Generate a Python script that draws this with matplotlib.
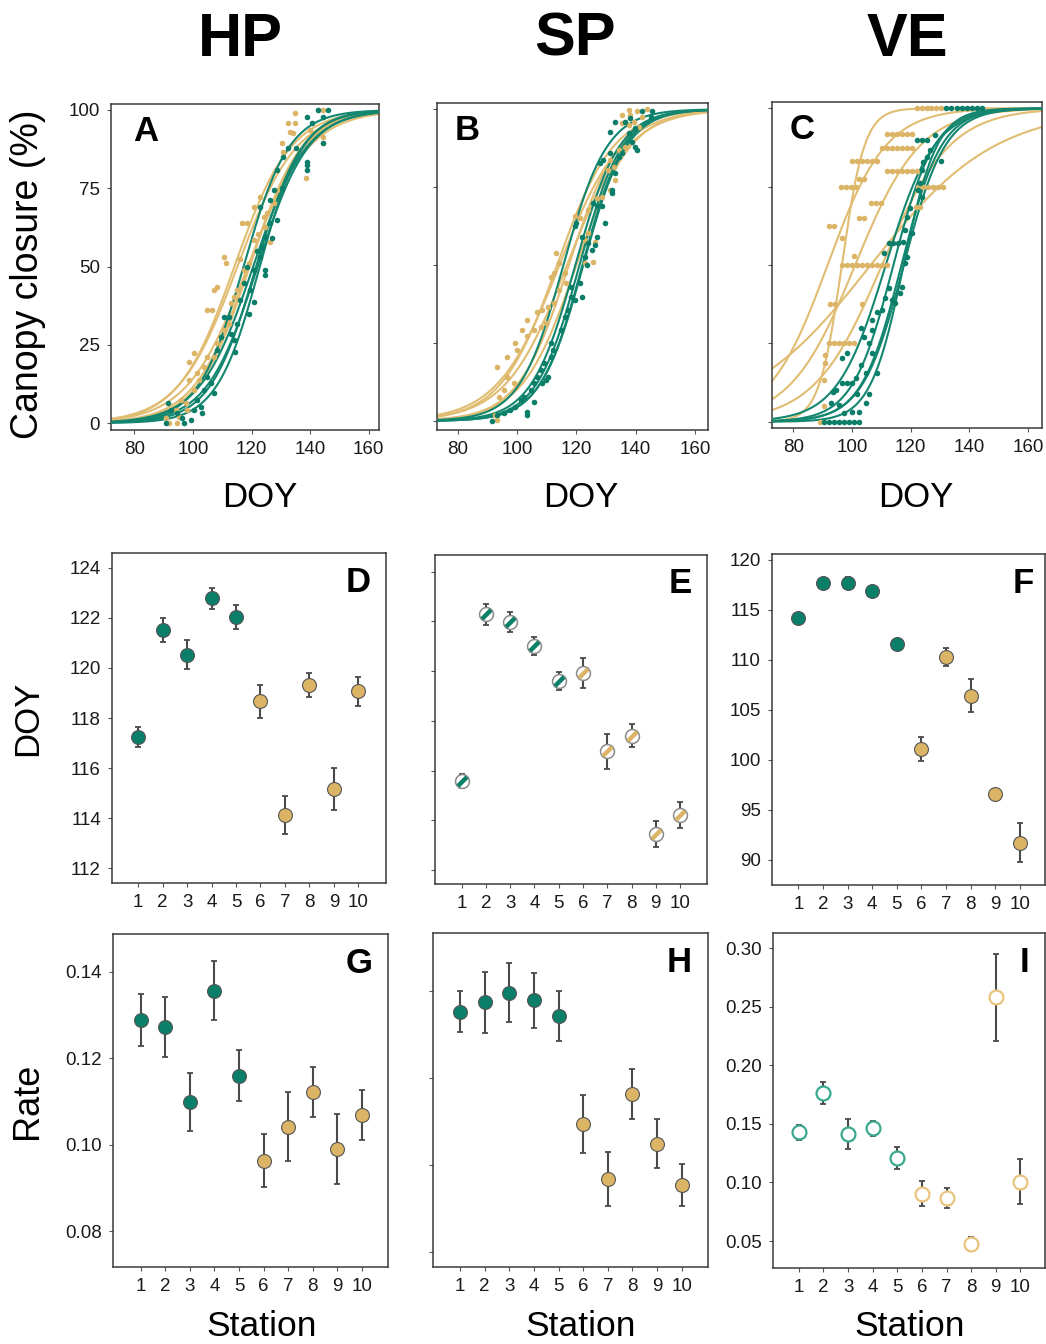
import numpy as np
import matplotlib
matplotlib.use("Agg")
import matplotlib.pyplot as plt
from matplotlib.path import Path

plt.rcParams['font.family'] = ['Liberation Sans', 'DejaVu Sans']

# ---------------- data ----------------
stations = [1, 2, 3, 4, 5, 6, 7, 8, 9, 10]
site_names = ["HP", "SP", "VE"]
doy_ticks = [80, 100, 120, 140, 160]
canopy_ticks = [0, 25, 50, 75, 100]

# inflection DOY (D, E, F) with errors
D_doy = [117.24, 121.53, 120.53, 122.80, 122.05, 118.67, 114.13, 119.31, 115.17, 119.08]
D_err = [0.40, 0.47, 0.58, 0.42, 0.47, 0.67, 0.77, 0.48, 0.83, 0.58]
E_doy = [115.58, 122.28, 121.99, 121.00, 119.60, 119.94, 116.77, 117.41, 113.44, 114.22]
E_err = [0.28, 0.41, 0.40, 0.37, 0.36, 0.60, 0.69, 0.47, 0.53, 0.53]
F_doy = [114.17, 117.67, 117.70, 116.90, 111.57, 101.13, 110.27, 106.43, 96.60, 91.73]
F_err = [0.15, 0.15, 0.63, 0.15, 0.58, 1.20, 0.90, 1.65, 0.47, 1.95]

# rates (G, H, I) with errors
G_rate = [0.1288, 0.1272, 0.1098, 0.1356, 0.1159, 0.0963, 0.1041, 0.1122, 0.0989, 0.1068]
G_err = [0.0060, 0.0070, 0.0067, 0.0069, 0.0059, 0.0062, 0.0080, 0.0058, 0.0081, 0.0058]
H_rate = [0.1352, 0.1374, 0.1396, 0.1378, 0.1343, 0.1094, 0.0967, 0.1163, 0.1049, 0.0954]
H_err = [0.0047, 0.0070, 0.0067, 0.0063, 0.0057, 0.0067, 0.0062, 0.0058, 0.0056, 0.0048]
I_rate = [0.1428, 0.1761, 0.1414, 0.1462, 0.1209, 0.0904, 0.0867, 0.0472, 0.2581, 0.1007]
I_err = [0.0062, 0.0093, 0.0130, 0.0064, 0.0093, 0.0107, 0.0083, 0.0060, 0.0370, 0.0190]

# observed canopy closure points
A_gold_doy = [134.8, 134.8, 134.2, 133.1, 138.5, 130.3, 130.8, 139.9, 144.4, 144.4, 144.4, 142.7, 132.5,
              122.9, 120.7, 116.7, 118.4, 110.5, 111.1, 107.1, 108.2, 104.9, 106.6, 98.6, 100.3, 101.5,
              98.6, 95.8, 94.1, 94.7, 91.9, 90.7, 124.1, 124.6, 126.3, 120.7, 119.0, 117.3, 116.2, 115.0,
              112.8, 113.9, 112.2, 110.5, 108.2, 107.1, 104.9, 103.7, 102.0, 100.3, 97.5, 98.1, 95.3,
              127.5, 128.6, 125.2, 122.3]
A_gold_val = [98.9, 95.7, 92.5, 93.1, 78.2, 89.4, 86.7, 93.6, 91.5, 89.4, 100, 100, 95.7,
              72.3, 69.1, 63.8, 63.8, 53.1, 51.0, 42.5, 43.6, 36.1, 36.1, 19.6, 22.3, 15.9,
              13.7, 7.3, 4.2, 0, 0, 1.5, 65.9, 62.7, 57.9, 58.5, 51.0, 48.9, 52.5, 42.5,
              38.2, 40.4, 31.8, 29.7, 25.5, 21.2, 21.2, 18.0, 13.7, 10.5, 6.3, 4.2, 2.1,
              70.2, 74.4, 67.0, 60.5]
A_teal_doy = [138.8, 142.7, 146.1, 144.4, 138.8, 138.8, 138.8, 144.4, 140.5, 132.5, 130.8, 128.6, 127.5,
              126.3, 122.9, 126.3, 124.6, 126.9, 123.5, 124.6, 124.6, 122.9, 120.7, 120.7, 119.5, 117.3,
              116.2, 115.0, 114.5, 113.9, 112.8, 112.2, 110.5, 109.4, 108.2, 106.0, 107.1, 104.9, 103.7,
              102.6, 101.5, 100.3, 99.2, 96.9, 96.4, 94.7, 92.4, 91.3, 90.7, 103.2, 118.4, 121.8, 119.0,
              128.6, 130.3, 135.0]
A_teal_val = [97.9, 100, 100, 97.9, 83.5, 82.4, 80.8, 89.4, 95.7, 87.8, 85.1, 80.8, 74.4,
              71.2, 69.1, 63.8, 59.5, 59.0, 56.3, 48.9, 47.3, 53.1, 48.9, 38.8, 42.5, 44.6,
              39.3, 31.8, 22.8, 26.5, 28.6, 34.0, 34.0, 27.6, 23.3, 12.7, 9.5, 14.8, 10.5,
              5.2, 7.3, 4.2, 1.0, 0, 1.5, 3.1, 4.2, 6.3, 0, 3.1, 50.0, 55.0, 35.0,
              65.0, 75.0, 88.0]

B_gold_doy = [135.4, 137.6, 138.2, 140.5, 143.9, 142.2, 139.4, 141.1, 136.5, 137.6, 135.4, 132.5, 131.4,
              119.4, 121.1, 126.8, 128.5, 123.9, 122.8, 126.2, 125.7, 122.8, 113.1, 114.2, 112.5, 111.4,
              116.0, 116.5, 114.2, 112.5, 110.3, 108.5, 106.8, 103.4, 101.7, 99.4, 100.0, 96.6, 93.1,
              96.6, 95.4, 93.7, 93.1, 92.6, 98.8, 103.4, 105.7, 108.0, 109.7, 123.9, 130.8, 131.4,
              133.1, 136.5, 134.2]
B_gold_val = [98.2, 99.8, 98.2, 99.3, 100, 97.6, 96.0, 94.4, 96.0, 95.0, 95.5, 81.6, 83.7,
              65.6, 65.0, 71.4, 72.0, 67.7, 58.1, 57.5, 51.1, 50.6, 53.8, 50.6, 47.4, 46.3,
              47.4, 44.2, 42.0, 37.8, 36.7, 35.6, 35.1, 32.4, 29.2, 24.9, 22.8, 20.6, 17.4,
              14.2, 9.9, 7.8, 0.3, 1.9, 12.1, 27.1, 29.2, 30.3, 31.3, 60.2, 80.5, 74.1,
              77.3, 88.0, 87.0]
B_teal_doy = [131.4, 133.1, 136.5, 138.2, 142.2, 145.6, 145.1, 139.9, 137.6, 138.8, 139.9, 140.5, 135.4,
              134.2, 131.4, 129.1, 127.9, 133.1, 131.9, 131.9, 128.5, 129.7, 126.8, 125.7, 119.4, 120.0,
              121.7, 123.9, 125.1, 126.8, 126.2, 122.8, 123.4, 121.1, 121.7, 118.2, 118.2, 119.4, 116.0,
              114.8, 111.4, 112.0, 109.1, 108.0, 106.8, 105.7, 104.5, 102.3, 101.1, 99.4, 97.7, 95.4,
              93.1, 91.4, 103.4, 103.4, 105.7, 108.5, 109.7, 111.4, 110.3, 117.1]
B_teal_val = [92.8, 96.0, 96.0, 97.1, 99.3, 99.3, 97.6, 93.9, 92.3, 89.6, 88.0, 87.0, 85.9,
              84.8, 85.9, 83.7, 82.7, 79.5, 74.1, 73.0, 68.8, 63.4, 68.8, 69.8, 62.4, 63.4,
              59.1, 57.0, 54.9, 59.1, 56.5, 52.7, 50.1, 44.2, 39.9, 39.9, 43.1, 38.8, 33.5,
              29.2, 24.9, 22.8, 18.5, 16.4, 14.2, 12.1, 9.9, 7.8, 6.7, 4.6, 3.5, 2.5,
              1.9, 0.0, 3.0, 1.9, 6.2, 12.1, 13.2, 20.6, 14.2, 35.6]

# VE: gold observations fall on discrete closure levels
C_gold_levels = [100, 91.7, 87.4, 83.3, 80.0, 77.3, 74.8, 69.9, 68.6, 65.1, 62.4, 58.5, 53.0,
                 50.0, 37.5, 25.0, 21.3, 18.6, 13.3, 5.0, 0.0]
C_gold_days = [[122.1, 123.8, 125.5, 127.1, 128.8, 130.5],
               [112.0, 113.7, 115.4, 117.1, 118.8, 120.5],
               [110.3, 112.0, 113.7, 115.4, 117.1, 118.8, 120.4],
               [100.2, 101.9, 103.6, 105.2, 106.9, 108.6],
               [112.0, 113.7, 115.4, 117.1, 118.8, 120.5, 122.2],
               [102.4, 104.1],
               [96.4, 98.1, 99.8, 101.3, 122.6, 124.3, 126.0, 127.7, 129.4, 131.0],
               [106.4, 108.1, 109.8],
               [121.7, 123.4],
               [102.4, 104.1],
               [92.3, 94.0],
               [96.8],
               [100.8],
               [96.8, 98.5, 100.2, 101.9, 103.6, 105.3, 107.0, 108.7, 110.4, 112.1],
               [92.6, 94.3, 103.3],
               [92.3, 94.0, 95.7, 97.4, 99.1, 100.8],
               [90.8], [90.8], [90.6], [90.6], [89.0]]
C_teal_doy = [90.6, 92.3, 94.0, 95.7, 97.4, 99.1, 100.8, 102.5,
              132.2, 133.9, 135.7, 137.4, 139.2, 140.9, 142.7, 144.5,
              122.1, 123.8, 125.5, 128.3, 130.5, 126.6, 125.5, 124.3, 123.8, 123.2, 122.6, 123.8,
              119.8, 118.7, 118.2, 120.4, 117.6, 118.7, 118.2, 117.0, 116.5, 114.8, 113.7, 112.5,
              114.2, 115.9, 110.9, 112.5, 111.4, 110.3, 108.6, 106.9, 106.9, 103.0, 104.1, 105.8,
              106.9, 108.6, 104.7, 103.0, 101.3, 100.2, 98.5, 96.8, 96.8, 98.5, 94.6, 93.5, 92.9,
              95.7, 97.4, 100.2, 102.4, 104.7, 101.9, 105.8]
C_teal_val = [0, 0, 0, 0, 0, 0, 0, 0,
              100, 100, 100, 100, 100, 100, 100, 100,
              89.9, 89.9, 89.9, 91.5, 83.3, 86.7, 84.6, 83.0, 80.3, 76.1, 73.9, 71.8,
              68.1, 65.4, 61.2, 60.1, 57.4, 52.7, 50.5, 43.1, 41.0, 37.8, 38.8, 56.9,
              56.9, 56.9, 53.7, 42.6, 39.4, 35.6, 35.1, 32.4, 29.3, 29.8, 27.1, 25.0,
              21.8, 15.4, 15.4, 18.1, 13.8, 12.2, 12.2, 12.2, 20.2, 21.8, 10.1, 9.6, 5.9,
              5.3, 2.7, 3.2, 3.2, 5.9, 9.0, 9.0]

# ---------------- style ----------------
TEAL = '#0b7e69'
GOLD = '#dbb466'
TEAL_CURVE = '#138670'
GOLD_CURVE = '#e0bd72'
TEAL_OPEN = '#3aa88f'
GOLD_OPEN = '#e8c47e'
ECOL = '#4a4a4a'

fig = plt.figure(figsize=(10.46, 13.44), dpi=100)
W, Hh = 1046.0, 1344.0


def add_ax(l, t, r, b):
    return fig.add_axes([l / W, 1 - b / Hh, (r - l) / W, (b - t) / Hh])


def style(ax, show_y=True, size=13.5):
    for s in ax.spines.values():
        s.set_color('#3a3a3a')
        s.set_linewidth(1.1)
    ax.tick_params(direction='out', length=3, width=0.8, color='#555555',
                   labelsize=size, pad=5, labelcolor='#1a1a1a')
    if not show_y:
        ax.tick_params(axis='y', labelleft=False)


def panel_letter(ax, letter, x, y):
    ax.text(x, y, letter, transform=ax.transAxes, fontsize=25, fontweight='bold',
            ha='center', va='center', color='black')


def logistic(x, m, r):
    return 100.0 / (1.0 + np.exp(-r * (x - m)))


colors10 = [TEAL] * 5 + [GOLD] * 5

# ---------------- top row: curves ----------------
top_boxes = [(111, 104, 379, 430), (437, 103, 708, 430), (772, 102, 1042, 428)]
top_xlim = [(72.0, 163.5), (72.9, 164.4), (72.8, 164.8)]
top_ylim = [(-2.2, 101.9), (-2.9, 102.0), (-2.0, 102.0)]
mids = [D_doy, E_doy, F_doy]
rates = [G_rate, H_rate, I_rate]
gold_pts = [(A_gold_doy, A_gold_val), (B_gold_doy, B_gold_val), None]
teal_pts = [(A_teal_doy, A_teal_val), (B_teal_doy, B_teal_val), (C_teal_doy, C_teal_val)]
letters_top = ['A', 'B', 'C']
xs = np.linspace(65, 170, 500)

for i in range(3):
    ax = add_ax(*top_boxes[i])
    m, r = mids[i], rates[i]
    for k in range(5, 10):
        ax.plot(xs, logistic(xs, m[k], r[k]), color=GOLD_CURVE, lw=1.5, zorder=2)
    for k in range(0, 5):
        ax.plot(xs, logistic(xs, m[k], r[k]), color=TEAL_CURVE, lw=1.5, zorder=3)
    if gold_pts[i] is not None:
        ax.scatter(gold_pts[i][0], gold_pts[i][1], s=16, color=GOLD, lw=0, zorder=4)
    else:
        for lev, days in zip(C_gold_levels, C_gold_days):
            ax.scatter(days, [lev] * len(days), s=16, color=GOLD, lw=0, zorder=4)
    ax.scatter(teal_pts[i][0], teal_pts[i][1], s=16, color=TEAL, lw=0, zorder=5)
    ax.set_xlim(*top_xlim[i])
    ax.set_ylim(*top_ylim[i])
    ax.set_xticks(doy_ticks)
    ax.set_yticks(canopy_ticks)
    style(ax, show_y=(i == 0), size=13.5)
    panel_letter(ax, letters_top[i], 0.13 if i == 0 else 0.11, 0.915)

# ---------------- middle row: inflection DOY ----------------
mid_boxes = [(112, 553, 386, 883), (435, 555, 707, 884), (772, 554, 1045, 885)]
mid_ylim = [(111.4, 124.6), (111.44, 124.67), (87.5, 120.6)]
mid_ticks = [[112, 114, 116, 118, 120, 122, 124], [112, 114, 116, 118, 120, 122, 124],
             [90, 95, 100, 105, 110, 115, 120]]
mid_xlim = [(-0.07, 11.13), (-0.1, 11.11), (-0.07, 11.02)]
mid_vals = [(D_doy, D_err), (E_doy, E_err), (F_doy, F_err)]
letters_mid = ['D', 'E', 'F']
stripe = Path([(-1, -1), (1, 1)], [Path.MOVETO, Path.LINETO])

for i in range(3):
    ax = add_ax(*mid_boxes[i])
    v, e = mid_vals[i]
    ax.errorbar(stations, v, yerr=e, fmt='none', ecolor=ECOL, elinewidth=1.5,
                capsize=2.5, capthick=1.3, zorder=2)
    for k in range(10):
        if i == 1:
            ax.plot(stations[k], v[k], 'o', ms=10, mfc='white', mec='#8a8a8a', mew=1.1, zorder=3)
            ax.plot(stations[k], v[k], marker=stripe, ms=6.5, mec=colors10[k], mew=3.2,
                    ls='none', zorder=4)
        else:
            ax.plot(stations[k], v[k], 'o', ms=10, mfc=colors10[k], mec='#555555', mew=0.8, zorder=3)
    ax.set_xlim(*mid_xlim[i])
    ax.set_ylim(*mid_ylim[i])
    ax.set_xticks(stations)
    ax.set_yticks(mid_ticks[i])
    style(ax, show_y=(i != 1))
    panel_letter(ax, letters_mid[i], 0.9 if i < 2 else 0.92, 0.912)

# ---------------- bottom row: rates ----------------
bot_boxes = [(113, 934, 388, 1267), (433, 933, 708, 1267), (773, 933, 1045, 1268)]
bot_ylim = [(0.0717, 0.1487), (0.0766, 0.1533), (0.027, 0.313)]
bot_ticks = [[0.08, 0.10, 0.12, 0.14], [0.08, 0.10, 0.12, 0.14],
             [0.05, 0.10, 0.15, 0.20, 0.25, 0.30]]
bot_xlim = [(-0.13, 11.07), (-0.1, 11.07), (-0.05, 11.0)]
bot_vals = [(G_rate, G_err), (H_rate, H_err), (I_rate, I_err)]
letters_bot = ['G', 'H', 'I']
open_cols = [TEAL_OPEN] * 5 + [GOLD_OPEN] * 5

for i in range(3):
    ax = add_ax(*bot_boxes[i])
    v, e = bot_vals[i]
    ax.errorbar(stations, v, yerr=e, fmt='none', ecolor=ECOL, elinewidth=1.5,
                capsize=2.5, capthick=1.3, zorder=2)
    for k in range(10):
        if i == 2:
            ax.plot(stations[k], v[k], 'o', ms=10, mfc='white', mec=open_cols[k], mew=1.6, zorder=3)
        else:
            ax.plot(stations[k], v[k], 'o', ms=10, mfc=colors10[k], mec='#555555', mew=0.8, zorder=3)
    ax.set_xlim(*bot_xlim[i])
    ax.set_ylim(*bot_ylim[i])
    ax.set_xticks(stations)
    ax.set_yticks(bot_ticks[i])
    ax.set_yticklabels([f"{t:.2f}" for t in bot_ticks[i]])
    style(ax, show_y=(i != 1))
    panel_letter(ax, letters_bot[i], 0.895 if i < 2 else 0.925, 0.912)

# ---------------- labels ----------------
for name, xc in zip(site_names, [240, 575, 907]):
    fig.text(xc / W, 1 - 40 / Hh, name, fontsize=44, fontweight='bold', ha='center', va='center')

for xc in [260, 581, 916]:
    fig.text(xc / W, 1 - 497 / Hh, "DOY", fontsize=25, ha='center', va='center')
for xc in [262, 581, 910]:
    fig.text(xc / W, 1 - 1327 / Hh, "Station", fontsize=25.5, ha='center', va='center')

fig.text(28 / W, 1 - 274 / Hh, "Canopy closure (%)", fontsize=27, rotation=90, ha='center', va='center')
fig.text(28 / W, 1 - 718 / Hh, "DOY", fontsize=25, rotation=90, ha='center', va='center')
fig.text(28 / W, 1 - 1101 / Hh, "Rate", fontsize=26, rotation=90, ha='center', va='center')

fig.savefig("out.png", dpi=100)
